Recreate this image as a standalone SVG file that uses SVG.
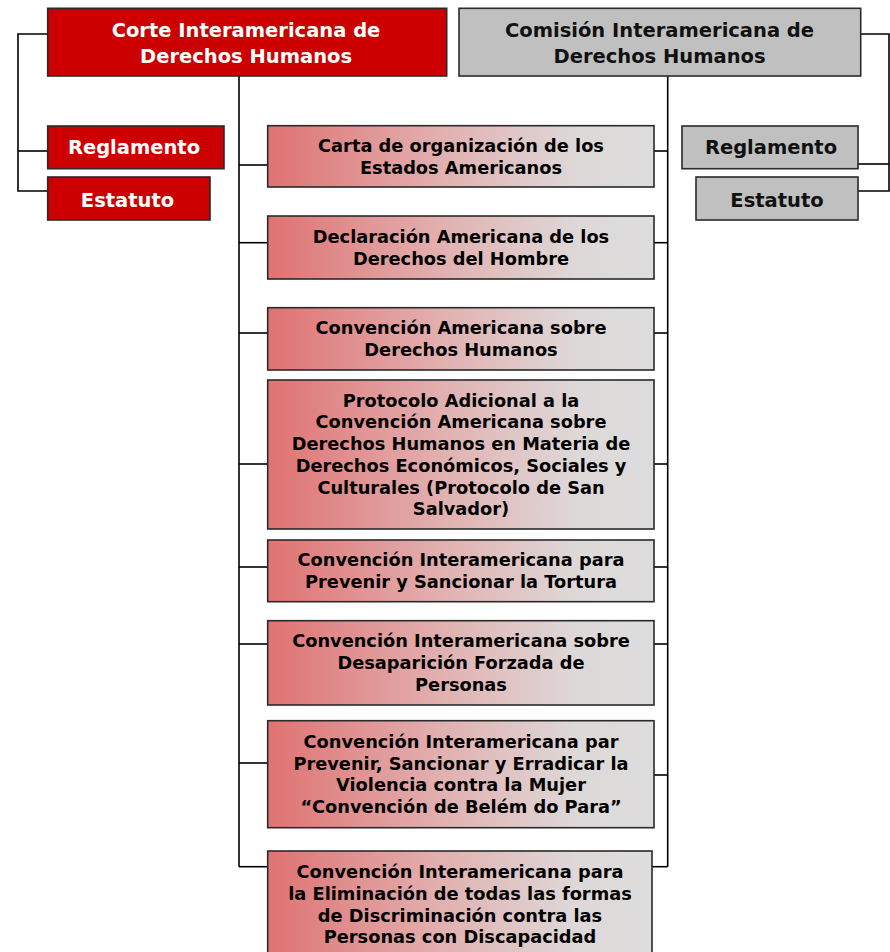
<svg xmlns="http://www.w3.org/2000/svg" width="890" height="952" viewBox="0 0 890 952">
<style>
.red{fill:#CC0000;stroke:#2a2a2a;stroke-width:1.6}
.gray{fill:#C0C0C0;stroke:#2a2a2a;stroke-width:1.6}
.doc{fill:url(#g);stroke:#2a2a2a;stroke-width:1.6}
.line{fill:none;stroke:#000;stroke-width:1.6}
text{font-family:"DejaVu Sans","Liberation Sans",sans-serif;font-weight:bold;text-anchor:middle}
.tw{fill:#fff;font-size:19.5px}
.tk{fill:#111;font-size:19.5px}
.td{fill:#000;font-size:17.8px}
</style>
<defs>
<linearGradient id="g" x1="0" y1="0" x2="1" y2="0">
<stop offset="0" stop-color="#E07272"/>
<stop offset="0.45" stop-color="#E2B0B0"/>
<stop offset="0.8" stop-color="#DED8D8"/>
<stop offset="1" stop-color="#DDDDDD"/>
</linearGradient>
</defs>
<g id="connectors">
<polyline class="line" points="47.7,34 18,34 18,191 47.7,191"/>
<line class="line" x1="18" y1="151" x2="47.7" y2="151"/>
<polyline class="line" points="861,34 889,34 889,191 858,191"/>
<line class="line" x1="858" y1="164" x2="889" y2="164"/>
<line class="line" x1="239" y1="76" x2="239" y2="866.7"/>
<line class="line" x1="667.7" y1="76" x2="667.7" y2="866.7"/>
<line class="line" x1="239" y1="165" x2="267.7" y2="165"/>
<line class="line" x1="654" y1="151" x2="667.7" y2="151"/>
<line class="line" x1="239" y1="242.7" x2="267.7" y2="242.7"/>
<line class="line" x1="654" y1="242.7" x2="667.7" y2="242.7"/>
<line class="line" x1="239" y1="333" x2="267.7" y2="333"/>
<line class="line" x1="654" y1="333" x2="667.7" y2="333"/>
<line class="line" x1="239" y1="464" x2="267.7" y2="464"/>
<line class="line" x1="654" y1="464" x2="667.7" y2="464"/>
<line class="line" x1="239" y1="567" x2="267.7" y2="567"/>
<line class="line" x1="654" y1="567" x2="667.7" y2="567"/>
<line class="line" x1="239" y1="644" x2="267.7" y2="644"/>
<line class="line" x1="654" y1="644" x2="667.7" y2="644"/>
<line class="line" x1="239" y1="763" x2="267.7" y2="763"/>
<line class="line" x1="654" y1="775" x2="667.7" y2="775"/>
<line class="line" x1="239" y1="866.7" x2="267.7" y2="866.7"/>
<line class="line" x1="652" y1="866.7" x2="667.7" y2="866.7"/>
</g>
<g id="corte">
<rect class="red" x="47.7" y="8.3" width="399" height="67.7"/>
<text class="tw" x="246" y="36.5">Corte Interamericana de</text>
<text class="tw" x="246" y="62.5">Derechos Humanos</text>
</g>
<g id="comision">
<rect class="gray" x="459" y="8.3" width="401.7" height="67.7"/>
<text class="tk" x="659.5" y="36.5">Comisión Interamericana de</text>
<text class="tk" x="659.5" y="62.5">Derechos Humanos</text>
</g>
<g id="corte-reglamento">
<rect class="red" x="47.7" y="126" width="176.3" height="42.7"/>
<text class="tw" x="134" y="154">Reglamento</text>
</g>
<g id="corte-estatuto">
<rect class="red" x="47.7" y="177" width="162.3" height="43"/>
<text class="tw" x="127.5" y="206.5">Estatuto</text>
</g>
<g id="comision-reglamento">
<rect class="gray" x="682" y="126" width="176" height="42.7"/>
<text class="tk" x="771" y="154">Reglamento</text>
</g>
<g id="comision-estatuto">
<rect class="gray" x="696" y="177" width="162" height="43"/>
<text class="tk" x="777" y="206.5">Estatuto</text>
</g>
<g id="carta">
<rect class="doc" x="267.7" y="125.7" width="386.3" height="61.3"/>
<text class="td" x="461" y="152">Carta de organización de los</text>
<text class="td" x="461" y="173.7">Estados Americanos</text>
</g>
<g id="declaracion">
<rect class="doc" x="267.7" y="216" width="386.3" height="63"/>
<text class="td" x="461" y="243">Declaración Americana de los</text>
<text class="td" x="461" y="264.7">Derechos del Hombre</text>
</g>
<g id="convencion-americana">
<rect class="doc" x="267.7" y="307.7" width="386.3" height="62.3"/>
<text class="td" x="461" y="334.3">Convención Americana sobre</text>
<text class="td" x="461" y="356">Derechos Humanos</text>
</g>
<g id="protocolo">
<rect class="doc" x="267.7" y="380" width="386.3" height="149"/>
<text class="td" x="461" y="406.7">Protocolo Adicional a la</text>
<text class="td" x="461" y="428.4">Convención Americana sobre</text>
<text class="td" x="461" y="450.1">Derechos Humanos en Materia de</text>
<text class="td" x="461" y="471.8">Derechos Económicos, Sociales y</text>
<text class="td" x="461" y="493.5">Culturales (Protocolo de San</text>
<text class="td" x="461" y="515.2">Salvador)</text>
</g>
<g id="tortura">
<rect class="doc" x="267.7" y="540" width="386.3" height="61.7"/>
<text class="td" x="461" y="566.3">Convención Interamericana para</text>
<text class="td" x="461" y="588">Prevenir y Sancionar la Tortura</text>
</g>
<g id="desaparicion">
<rect class="doc" x="267.7" y="620.7" width="386.3" height="84.3"/>
<text class="td" x="461" y="647.4">Convención Interamericana sobre</text>
<text class="td" x="461" y="669.1">Desaparición Forzada de</text>
<text class="td" x="461" y="690.8">Personas</text>
</g>
<g id="belem">
<rect class="doc" x="267.7" y="720.7" width="386.3" height="107"/>
<text class="td" x="461" y="747.9">Convención Interamericana par</text>
<text class="td" x="461" y="769.6">Prevenir, Sancionar y Erradicar la</text>
<text class="td" x="461" y="791.3">Violencia contra la Mujer</text>
<text class="td" x="461" y="813">“Convención de Belém do Para”</text>
</g>
<g id="discapacidad">
<rect class="doc" x="267.7" y="851" width="384.3" height="112"/>
<text class="td" x="460" y="878.3">Convención Interamericana para</text>
<text class="td" x="460" y="900">la Eliminación de todas las formas</text>
<text class="td" x="460" y="921.7">de Discriminación contra las</text>
<text class="td" x="460" y="943.4">Personas con Discapacidad</text>
</g>
</svg>
